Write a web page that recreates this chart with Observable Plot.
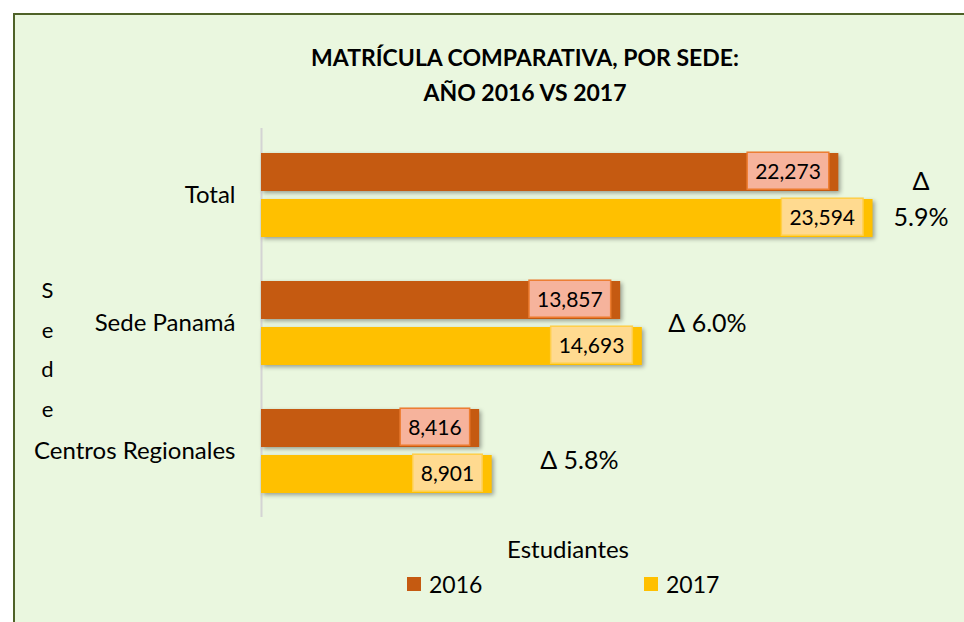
<!DOCTYPE html>
<html><head><meta charset="utf-8">
<script src="https://cdn.jsdelivr.net/npm/d3@7"></script>
<script src="https://cdn.jsdelivr.net/npm/@observablehq/plot@0.6"></script>
<style>
html,body{margin:0;padding:0;}
body{background:#fff;width:964px;height:622px;overflow:hidden;position:relative;font-family:Lato,"Noto Sans",sans-serif;color:#000;}
#frame{position:absolute;left:13px;top:13px;width:1000px;height:700px;border:2px solid #4f6228;background:#eaf7df;box-sizing:border-box;}
#title{position:absolute;left:175px;width:700px;top:40px;text-align:center;font-weight:bold;font-size:23px;line-height:35px;}
#chart{position:absolute;left:0;top:100px;}
#xlabel{position:absolute;left:468px;width:200px;top:534px;text-align:center;font-size:24px;line-height:30px;}
.leg{position:absolute;top:569px;font-size:23px;line-height:30px;display:flex;align-items:center;}
.sw{width:14px;height:14px;margin-right:8px;display:inline-block;}
g[aria-label="bar"]{filter:drop-shadow(2px 2px 2px rgba(0,0,0,0.35));}
</style></head>
<body>
<div id="frame"></div>
<div id="title">MATRÍCULA COMPARATIVA, POR SEDE:<br>AÑO 2016 VS 2017</div>
<div id="chart"></div>
<div id="xlabel">Estudiantes</div>
<div id="legend"></div>
<script>
const sedes = ["Total", "Sede Panamá", "Centros Regionales"];
const years = ["2016", "2017"];
const v2016 = [22273, 13857, 8416];
const v2017 = [23594, 14693, 8901];
const colors = ["#c55a11", "#ffc000"];
const boxFill = ["#f6b39c", "#ffda90"];
const boxStroke = ["#ed7d31", "#ffcf4a"];
const axisLetters = "Sede";

const rows = [];
sedes.forEach((s, i) => {
  rows.push({sede: s, year: years[0], value: v2016[i]});
  rows.push({sede: s, year: years[1], value: v2017[i]});
});
const deltas = sedes.map((s, i) => ({
  sede: s,
  x: Math.max(v2016[i], v2017[i]),
  pct: d3.format(".1%")((v2017[i] - v2016[i]) / v2016[i])
}));

const r2016 = rows.filter(d => d.year === years[0]);
const r2017 = rows.filter(d => d.year === years[1]);
const fmt = d3.format(",");
const fsVal = 21, fsDelta = 25;

const plot = Plot.plot({
  width: 964,
  height: 450,
  marginLeft: 261,
  marginRight: 55,
  marginTop: 28,
  marginBottom: 33,
  style: {background: "transparent", fontFamily: "Lato, 'Noto Sans', sans-serif", fontSize: "24px", color: "#000"},
  x: {domain: [0, 25000], axis: null},
  y: {domain: sedes, paddingInner: 0.3, paddingOuter: 0.16, label: null, tickSize: 0, tickPadding: 26},
  marks: [
    Plot.ruleX([0], {stroke: "#d4d4d4", strokeWidth: 2}),
    Plot.barX(r2016, {x: "value", y: "sede", fill: colors[0], insetTop: 26, insetBottom: 26, dy: -23}),
    Plot.barX(r2017, {x: "value", y: "sede", fill: colors[1], insetTop: 26, insetBottom: 26, dy: 23}),
    Plot.text(r2016, {x: "value", y: "sede", text: d => fmt(d.value), textAnchor: "end", dx: -18, dy: -23, fontSize: fsVal, fill: "#000"}),
    Plot.text(r2017, {x: "value", y: "sede", text: d => fmt(d.value), textAnchor: "end", dx: -18, dy: 23, fontSize: fsVal, fill: "#000"}),
    Plot.text(deltas.filter(d => d.sede === sedes[0]), {x: "x", y: "sede", text: d => "Δ\n" + d.pct, textAnchor: "middle", dx: 48, dy: 1, lineHeight: 1.45, fontSize: fsDelta, fill: "#000"}),
    Plot.text(deltas.filter(d => d.sede === sedes[1]), {x: "x", y: "sede", text: d => "Δ " + d.pct, textAnchor: "start", dx: 26, fontSize: fsDelta, fill: "#000"}),
    Plot.text(deltas.filter(d => d.sede === sedes[2]), {x: "x", y: "sede", text: d => "Δ " + d.pct, textAnchor: "start", dx: 48, dy: 9, fontSize: fsDelta, fill: "#000"}),
    Plot.text([axisLetters.split("").join("\n")], {frameAnchor: "left", text: d => d, dx: -214, dy: 22, lineHeight: 1.8, textAnchor: "middle", fontSize: 22, fill: "#000"})
  ]
});
document.getElementById("chart").appendChild(plot);

// label boxes behind value labels
const labelSets = [v2016.map(fmt), v2017.map(fmt)];
d3.select(plot).selectAll("text").each(function() {
  const s = this.textContent;
  const k = labelSets[0].includes(s) ? 0 : labelSets[1].includes(s) ? 1 : -1;
  if (k < 0) return;
  const b = this.getBBox();
  const cy = b.y + b.height / 2;
  const rect = document.createElementNS("http://www.w3.org/2000/svg", "rect");
  rect.setAttribute("x", b.x - 8);
  rect.setAttribute("y", cy - 18.5);
  rect.setAttribute("width", b.width + 16);
  rect.setAttribute("height", 37);
  rect.setAttribute("fill", boxFill[k]);
  rect.setAttribute("stroke", boxStroke[k]);
  rect.setAttribute("stroke-width", 1.5);
  const t = this.getAttribute("transform");
  if (t) rect.setAttribute("transform", t);
  this.parentNode.insertBefore(rect, this);
});

// legend
const legendX = [407, 644];
const leg = d3.select("#legend");
years.forEach((y, i) => {
  const item = leg.append("div").attr("class", "leg").style("left", legendX[i] + "px");
  item.append("span").attr("class", "sw").style("background", colors[i]);
  item.append("span").text(y);
});
</script>
</body></html>
